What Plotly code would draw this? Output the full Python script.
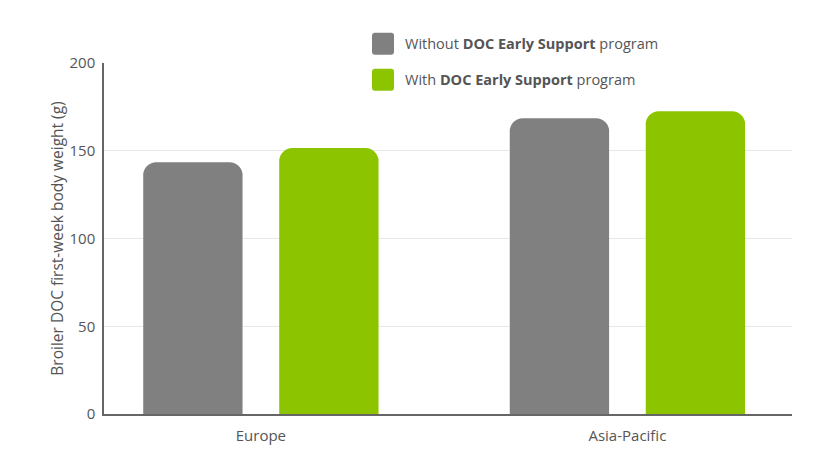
import plotly.graph_objects as go

regions = ["Europe", "Asia-Pacific"]
without_program = [143.5, 168.5]
with_program = [151.5, 172.5]
series_names = [
    "Without <b>DOC Early Support</b> program",
    "With <b>DOC Early Support</b> program",
]
series_colors = ["#808080", "#8cc400"]
y_ticks = [0, 50, 100, 150, 200]

FONT = "Open Sans, Noto Sans, sans-serif"
TXT = "#555555"

fig = go.Figure()
for vals, name, col, off in zip([without_program, with_program], series_names,
                                series_colors, [-0.321, 0.05]):
    fig.add_trace(go.Bar(
        x=list(range(len(regions))), y=vals, name=name,
        marker=dict(color=col, cornerradius=13, line=dict(width=0)),
        width=0.271, offset=off, showlegend=False,
    ))

# custom legend: big rounded swatches + text
def rounded_square(r=11, c=3):
    return (f"M{-r + c},{-r} L{r - c},{-r} Q{r},{-r} {r},{-r + c} "
            f"L{r},{r - c} Q{r},{r} {r - c},{r} L{-r + c},{r} "
            f"Q{-r},{r} {-r},{r - c} L{-r},{-r + c} Q{-r},{-r} {-r + c},{-r} Z")

L, R, T, B = 104, 792, 63.3, 414.5
def px(x):
    return (x - L) / (R - L)
def py(y):
    return (B - y) / (B - T)

for i, (name, col) in enumerate(zip(series_names, series_colors)):
    cy = [44, 80][i]
    fig.add_shape(type="path", xref="paper", yref="paper",
                  xsizemode="pixel", ysizemode="pixel",
                  xanchor=px(383), yanchor=py(cy),
                  path=rounded_square(), fillcolor=col, line=dict(width=0))
    fig.add_annotation(x=px(403), y=py(cy), xref="paper", yref="paper",
                       text=name, showarrow=False, xanchor="left", yanchor="middle",
                       font=dict(family=FONT, size=14.5, color=TXT))

# page body has an 8px margin, so margins are offset by 8
fig.update_layout(
    width=828, height=460,
    margin=dict(l=96, r=44, t=55.3, b=53.5),
    plot_bgcolor="white", paper_bgcolor="white",
    font=dict(family=FONT, color=TXT, size=14),
    xaxis=dict(
        tickvals=list(range(len(regions))), ticktext=regions,
        range=[-0.428, 1.449], showgrid=False, zeroline=False,
        showline=True, linecolor="#666666", linewidth=1.5,
        ticks="", ticklabelstandoff=7, tickfont=dict(size=15, color=TXT),
    ),
    yaxis=dict(
        range=[0, 200], tickvals=y_ticks, showgrid=True, gridcolor="#e8e8e8",
        gridwidth=1, zeroline=False, showline=True, linecolor="#666666",
        linewidth=1.5, ticks="", ticklabelstandoff=4,
        tickfont=dict(size=15, color=TXT),
        title=dict(text="Broiler DOC first-week body weight (g)",
                   font=dict(size=15.5, color=TXT), standoff=2),
    ),
)

fig.write_html("out.html")
